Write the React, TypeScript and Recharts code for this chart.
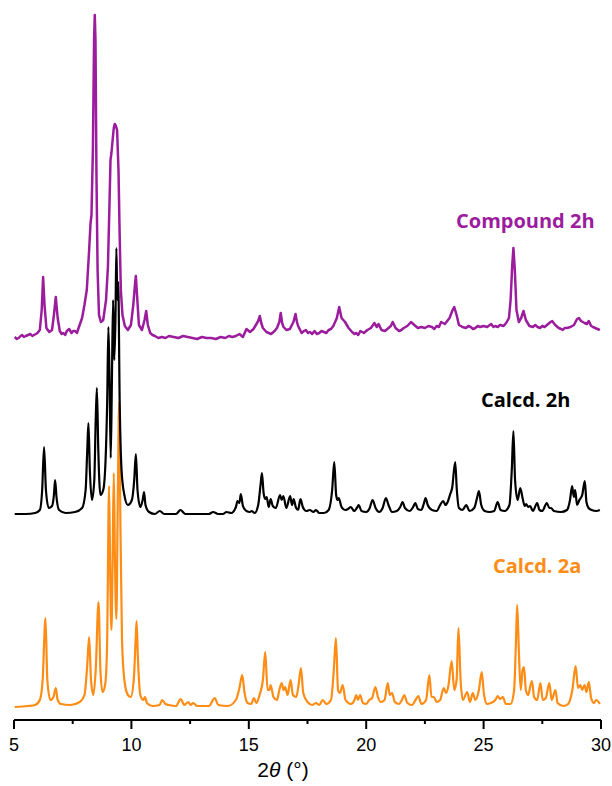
import React from 'react';
import { LineChart, Line, XAxis, YAxis } from 'recharts';

// Powder XRD patterns: [2θ (°), intensity above own baseline (a.u.)]
const compound2h: [number, number][] = [
  [5.03, 0], [5.12, -2], [5.2, -1], [5.28, 1], [5.35, 2], [5.42, 0], [5.5, 1], [5.6, 2], [5.7, 3], [5.78, 1], [5.85, 2], [5.93, 3], [6.0, 4], [6.1, 7],
  [6.18, 27], [6.24, 60], [6.3, 32], [6.38, 9], [6.5, 5], [6.62, 7], [6.7, 22], [6.78, 40],
  [6.86, 19], [6.95, 6], [7.03, 3], [7.1, 4], [7.18, 2], [7.25, 6], [7.35, 8], [7.45, 4], [7.52, 6], [7.6, 6], [7.68, 4], [7.75, 9],
  [7.9, 19], [8.0, 32], [8.1, 47], [8.2, 87], [8.26, 114], [8.3, 122], [8.36, 187], [8.41, 297],
  [8.44, 322], [8.47, 297], [8.51, 167], [8.56, 67], [8.62, 22], [8.7, 15], [8.8, 17], [8.92, 37],
  [9.0, 70], [9.06, 127], [9.11, 177], [9.15, 184], [9.2, 197], [9.25, 209], [9.29, 213], [9.34, 211],
  [9.39, 207], [9.45, 167], [9.5, 102], [9.55, 47], [9.62, 22], [9.72, 11], [9.85, 7], [9.98, 12],
  [10.08, 32], [10.15, 52], [10.19, 61], [10.24, 42], [10.32, 12], [10.45, 7], [10.56, 17], [10.63, 26],
  [10.7, 12], [10.8, 4], [10.9, 2], [11.0, 1], [11.15, -1], [11.3, 0], [11.45, -1], [11.6, 1], [11.8, 0], [12.0, -1], [12.2, 1], [12.4, 0], [12.6, -1], [12.8, -2],
  [13.0, 0], [13.2, -1], [13.4, -1], [13.6, -2], [13.8, 0], [14.0, -1], [14.15, 1], [14.3, 0], [14.45, 1], [14.6, 3], [14.75, 0], [14.9, 8], [15.05, 5],
  [15.2, 8], [15.3, 12], [15.4, 16], [15.47, 21], [15.53, 14], [15.6, 9], [15.75, 5], [15.95, 3], [16.1, 6], [16.2, 9], [16.3, 15], [16.36, 24],
  [16.42, 14], [16.48, 10], [16.6, 7], [16.75, 8], [16.9, 15], [16.99, 23], [17.05, 15], [17.1, 11], [17.25, 4], [17.35, 6], [17.43, 7],
  [17.52, 4], [17.6, 5], [17.7, 3], [17.8, 6], [17.9, 3], [18.0, 4], [18.1, 6], [18.2, 5], [18.3, 4], [18.4, 7], [18.5, 8], [18.6, 11], [18.75, 19], [18.85, 30],
  [18.95, 19], [19.1, 15], [19.25, 9], [19.4, 5], [19.5, 3], [19.57, 4], [19.66, 2], [19.75, 6], [19.9, 4], [20.05, 7],
  [20.2, 9], [20.35, 14], [20.45, 10], [20.53, 13], [20.65, 7], [20.8, 6], [20.95, 9], [21.05, 11],
  [21.13, 15], [21.25, 9], [21.4, 6], [21.5, 7], [21.6, 9], [21.75, 11], [21.91, 15], [22.05, 12], [22.2, 9],
  [22.35, 10], [22.5, 9], [22.65, 11], [22.8, 10], [22.9, 8], [23.0, 11], [23.1, 10], [23.19, 15], [23.35, 13], [23.55, 19],
  [23.68, 27], [23.75, 30], [23.85, 22], [23.95, 12], [24.1, 10], [24.25, 9], [24.35, 11], [24.45, 10], [24.55, 8], [24.65, 9],
  [24.75, 11], [24.85, 10], [25.0, 11], [25.15, 10], [25.32, 13], [25.42, 10], [25.5, 11], [25.6, 10], [25.7, 12], [25.85, 11], [25.96, 14],
  [26.08, 19], [26.15, 37], [26.22, 72], [26.27, 89], [26.33, 67], [26.4, 27], [26.5, 15], [26.6, 19],
  [26.7, 26], [26.8, 17], [26.95, 11], [27.1, 10], [27.2, 12], [27.3, 10], [27.4, 9], [27.5, 11], [27.6, 10], [27.7, 12], [27.85, 15],
  [27.92, 16], [28.05, 12], [28.2, 9], [28.3, 8], [28.37, 7], [28.45, 9], [28.55, 9], [28.7, 10], [28.85, 12], [28.98, 18],
  [29.06, 19], [29.15, 16], [29.3, 14], [29.4, 13], [29.48, 16], [29.58, 11], [29.66, 10], [29.75, 9], [29.85, 8], [29.95, 7],
];

const calcd2h: [number, number][] = [
  [5.03, 0], [5.5, 0], [5.9, 1], [6.1, 4], [6.2, 24], [6.28, 67], [6.36, 24], [6.48, 6],
  [6.62, 8], [6.7, 19], [6.75, 34], [6.81, 17], [6.92, 4], [7.2, 1], [7.6, 2], [7.9, 6],
  [8.05, 24], [8.12, 64], [8.17, 91], [8.23, 44], [8.32, 14], [8.42, 34], [8.48, 94], [8.53, 126],
  [8.59, 64], [8.68, 19], [8.8, 24], [8.9, 54], [8.97, 114], [9.02, 187], [9.07, 134], [9.12, 56],
  [9.17, 134], [9.22, 214], [9.27, 154], [9.32, 194], [9.36, 266], [9.4, 214], [9.44, 232], [9.5, 114],
  [9.58, 44], [9.7, 19], [9.85, 9], [10.02, 14], [10.12, 34], [10.19, 60], [10.26, 24], [10.38, 7],
  [10.48, 14], [10.54, 22], [10.6, 9], [10.75, 2], [11.0, 0], [11.21, 3], [11.4, 0], [11.9, 0],
  [12.09, 4], [12.3, 0], [13.3, 0], [13.48, 2], [13.7, 0], [13.9, 0], [14.05, 2], [14.25, 1],
  [14.45, 7], [14.52, 13], [14.6, 11], [14.66, 20], [14.75, 8], [14.9, 3], [15.05, 2], [15.12, 3],
  [15.25, 1], [15.4, 9], [15.5, 29], [15.56, 41], [15.63, 21], [15.7, 15], [15.76, 17], [15.85, 7],
  [15.93, 15], [16.02, 8], [16.15, 6], [16.33, 19], [16.4, 14], [16.47, 18], [16.6, 6], [16.76, 18],
  [16.84, 9], [16.91, 15], [17.0, 7], [17.1, 4], [17.2, 15], [17.3, 7], [17.45, 3], [17.6, 4],
  [17.75, 2], [17.86, 4], [18.0, 1], [18.2, 1], [18.4, 4], [18.55, 24], [18.64, 52], [18.72, 19],
  [18.78, 14], [18.83, 16], [18.95, 7], [19.1, 4], [19.22, 5], [19.35, 7], [19.48, 3], [19.6, 6],
  [19.68, 9], [19.8, 3], [20.0, 2], [20.15, 6], [20.27, 14], [20.4, 6], [20.55, 2], [20.7, 6],
  [20.84, 16], [20.95, 9], [21.1, 2], [21.3, 3], [21.45, 7], [21.55, 12], [21.65, 6], [21.85, 3],
  [22.0, 7], [22.09, 11], [22.2, 5], [22.35, 4], [22.45, 10], [22.53, 16], [22.62, 9], [22.8, 4],
  [23.0, 3], [23.15, 9], [23.28, 13], [23.38, 9], [23.47, 12], [23.58, 20], [23.66, 26], [23.79, 52],
  [23.86, 24], [23.95, 6], [24.1, 4], [24.26, 9], [24.4, 3], [24.6, 6], [24.72, 16], [24.8, 23],
  [24.9, 9], [25.05, 3], [25.25, 2], [25.45, 3], [25.6, 12], [25.72, 4], [25.9, 3], [26.1, 9],
  [26.2, 44], [26.27, 83], [26.34, 34], [26.45, 14], [26.56, 26], [26.66, 16], [26.75, 8], [26.81, 10],
  [26.9, 7], [26.98, 8], [27.1, 3], [27.28, 11], [27.38, 4], [27.5, 3], [27.69, 11], [27.8, 6],
  [27.87, 6], [28.0, 3], [28.3, 2], [28.55, 4], [28.68, 14], [28.77, 28], [28.84, 17], [28.9, 24],
  [28.98, 9], [29.08, 14], [29.2, 19], [29.31, 33], [29.38, 12], [29.47, 6], [29.6, 4], [29.8, 3],
  [29.95, 4],
];

const calcd2a: [number, number][] = [
  [5.03, 0], [5.6, 1], [5.9, 2], [6.1, 7], [6.22, 27], [6.34, 89], [6.42, 27], [6.55, 7],
  [6.68, 10], [6.78, 19], [6.86, 7], [7.0, 3], [7.4, 2], [7.8, 5], [8.0, 12], [8.12, 42],
  [8.2, 70], [8.28, 27], [8.38, 12], [8.48, 37], [8.6, 105], [8.68, 37], [8.77, 15], [8.88, 22],
  [8.96, 57], [9.05, 221], [9.1, 127], [9.15, 77], [9.2, 147], [9.25, 234], [9.3, 147], [9.36, 88],
  [9.42, 207], [9.48, 305], [9.53, 187], [9.6, 67], [9.7, 27], [9.85, 12], [9.97, 10], [10.1, 27],
  [10.18, 67], [10.22, 86], [10.28, 47], [10.38, 12], [10.5, 7], [10.58, 10], [10.66, 4], [10.9, 1],
  [11.2, 2], [11.31, 7], [11.45, 3], [11.6, 2], [11.9, 1], [12.1, 8], [12.25, 2], [12.42, 5],
  [12.52, 2], [12.63, 4], [12.8, 1], [13.3, 1], [13.55, 9], [13.7, 2], [14.1, 1], [14.45, 7],
  [14.6, 19], [14.72, 32], [14.82, 14], [14.95, 4], [15.1, 3], [15.22, 9], [15.32, 4], [15.47, 13],
  [15.6, 27], [15.7, 55], [15.8, 17], [15.88, 17], [15.93, 22], [16.05, 10], [16.2, 7], [16.3, 17],
  [16.4, 24], [16.48, 17], [16.55, 20], [16.65, 12], [16.78, 27], [16.88, 12], [17.02, 10], [17.12, 22],
  [17.22, 39], [17.32, 14], [17.5, 5], [17.7, 2], [17.86, 4], [18.0, 2], [18.15, 7], [18.3, 3],
  [18.5, 7], [18.62, 37], [18.71, 69], [18.8, 17], [18.88, 14], [19.0, 22], [19.12, 7], [19.35, 3],
  [19.5, 7], [19.57, 12], [19.65, 7], [19.74, 12], [19.86, 4], [20.0, 3], [20.13, 7], [20.25, 9],
  [20.39, 20], [20.5, 10], [20.62, 5], [20.78, 7], [20.92, 24], [21.0, 12], [21.1, 14], [21.22, 5],
  [21.4, 3], [21.52, 7], [21.62, 12], [21.75, 4], [21.95, 2], [22.1, 7], [22.22, 11], [22.35, 3],
  [22.55, 7], [22.69, 32], [22.78, 10], [22.88, 10], [23.0, 5], [23.15, 7], [23.3, 19], [23.4, 14],
  [23.5, 21], [23.64, 46], [23.75, 17], [23.85, 27], [23.93, 79], [24.02, 27], [24.12, 7], [24.3, 15],
  [24.42, 5], [24.54, 14], [24.65, 7], [24.8, 17], [24.92, 35], [25.02, 12], [25.15, 3], [25.3, 4],
  [25.5, 7], [25.6, 11], [25.7, 8], [25.82, 10], [25.95, 3], [26.15, 3], [26.3, 17], [26.38, 67],
  [26.43, 102], [26.5, 57], [26.58, 17], [26.66, 37], [26.72, 40], [26.8, 17], [26.9, 12], [27.0, 22],
  [27.06, 26], [27.15, 10], [27.28, 7], [27.42, 24], [27.52, 7], [27.65, 9], [27.8, 24], [27.9, 7],
  [28.06, 17], [28.15, 4], [28.4, 1], [28.6, 3], [28.78, 17], [28.92, 41], [29.02, 19], [29.12, 22],
  [29.2, 17], [29.3, 22], [29.38, 15], [29.48, 25], [29.58, 9], [29.7, 4], [29.8, 7], [29.95, 3],
];

// Vertical stacking offsets of each pattern
const OFFSET_2A = 13;
const OFFSET_2H_CALC = 206;
const OFFSET_2H_EXP = 383;

const X_TICKS = [5, 7.5, 10, 12.5, 15, 17.5, 20, 22.5, 25, 27.5, 30];

const PURPLE = '#9c1c9e';
const ORANGE = '#ff8c14';

const stack = (pts: [number, number][], offset: number) =>
  pts.map(([x, h]) => ({ x, y: h + offset }));

const AxisTick = (props: any) => {
  const { x, y, payload } = props;
  const major = payload.value % 5 === 0;
  return (
    <g>
      <line x1={x} x2={x} y1={y} y2={y + (major ? 9 : 4)} stroke="#000" strokeWidth={2} />
      {major && (
        <text x={x} y={y + 31} textAnchor="middle" fontFamily="'Liberation Sans', Arial, sans-serif" fontSize={18} fill="#000">
          {payload.value}
        </text>
      )}
    </g>
  );
};

const labelFont = "'Open Sans', 'Noto Sans', sans-serif";

export default function App() {
  return (
    <div style={{ position: 'absolute', left: 0, top: 0, background: '#fff' }}>
      <LineChart width={612} height={786} margin={{ top: 0, right: 11, left: 14, bottom: 0 }}>
        <XAxis
          type="number"
          dataKey="x"
          domain={[5, 30]}
          ticks={X_TICKS}
          interval={0}
          allowDataOverflow
          height={66}
          tickSize={0}
          tickMargin={0}
          tick={AxisTick}
          tickLine={false}
          axisLine={{ stroke: '#000', strokeWidth: 2 }}
        />
        <YAxis hide type="number" domain={[0, 720]} allowDataOverflow />
        <Line data={stack(calcd2a, OFFSET_2A)} dataKey="y" type="monotone" dot={false} stroke={ORANGE} strokeWidth={2.2} strokeLinejoin="round" isAnimationActive={false} />
        <Line data={stack(calcd2h, OFFSET_2H_CALC)} dataKey="y" type="monotone" dot={false} stroke="#000" strokeWidth={2.2} strokeLinejoin="round" isAnimationActive={false} />
        <Line data={stack(compound2h, OFFSET_2H_EXP)} dataKey="y" type="linear" dot={false} stroke={PURPLE} strokeWidth={2.5} strokeLinejoin="round" isAnimationActive={false} />
        <text x={456} y={228} fontFamily={labelFont} fontWeight={700} fontSize={20} fill={PURPLE}>Compound 2h</text>
        <text x={481} y={407} fontFamily={labelFont} fontWeight={700} fontSize={20} fill="#000">Calcd. 2h</text>
        <text x={493} y={573} fontFamily={labelFont} fontWeight={700} fontSize={20} fill={ORANGE}>Calcd. 2a</text>
        <text x={283} y={777} textAnchor="middle" fontFamily="'Liberation Sans', Arial, sans-serif" fontSize={21} fill="#000">
          2<tspan fontStyle="italic">θ</tspan> (°)
        </text>
      </LineChart>
    </div>
  );
}
